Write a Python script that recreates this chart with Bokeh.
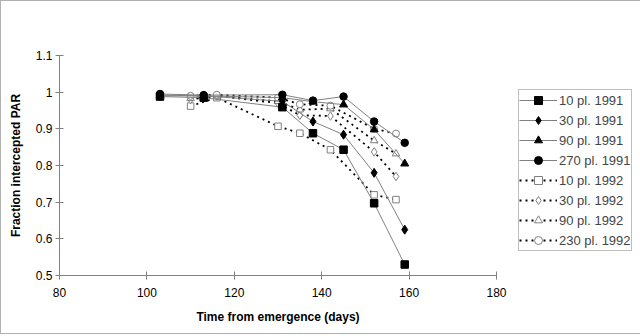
from bokeh.plotting import figure
from bokeh.models import Legend, LegendItem, FixedTicker, CustomJSTickFormatter, Range1d
from bokeh.embed import file_html
from bokeh.resources import INLINE

days_1991 = [103, 113, 131, 138, 145, 152, 159]
days_1992 = [110, 116, 130, 135, 142, 152, 157]

pl10_1991 = [0.988, 0.985, 0.959, 0.888, 0.843, 0.697, 0.530]
pl30_1991 = [0.990, 0.990, 0.975, 0.920, 0.884, 0.780, 0.625]
pl90_1991 = [0.992, 0.990, 0.985, 0.974, 0.966, 0.898, 0.805]
pl270_1991 = [0.995, 0.992, 0.993, 0.977, 0.988, 0.920, 0.862]

pl10_1992 = [0.962, 0.985, 0.907, 0.888, 0.843, 0.720, 0.707]
pl30_1992 = [0.980, 0.990, 0.970, 0.937, 0.935, 0.837, 0.770]
pl90_1992 = [0.983, 0.990, 0.975, 0.952, 0.955, 0.868, 0.832]
pl230_1992 = [0.990, 0.993, 0.985, 0.967, 0.963, 0.900, 0.887]

x_ticks = [80, 100, 120, 140, 160, 180]
y_ticks = [0.5, 0.6, 0.7, 0.8, 0.9, 1.0, 1.1]

FONT = "Liberation Sans"
GRAY = "#808080"

p = figure(frame_width=437, frame_height=220, output_backend="svg", toolbar_location=None,
           x_range=Range1d(80, 180), y_range=Range1d(0.5, 1.1),
           min_border_left=58, min_border_right=142, min_border_top=54, min_border_bottom=58)
p.styles = {"border": "1px solid #b0b0b0"}
p.outline_line_color = None
p.xgrid.visible = False
p.ygrid.visible = False

for ax in (p.xaxis[0], p.yaxis[0]):
    ax.axis_line_color = GRAY
    ax.major_tick_line_color = GRAY
    ax.minor_tick_line_color = None
    ax.major_tick_in = 4
    ax.major_tick_out = 4
    ax.major_label_text_font = FONT
    ax.major_label_text_font_size = "12px"
    ax.major_label_text_color = "black"
    ax.axis_label_text_font = FONT
    ax.axis_label_text_font_size = "12px"
    ax.axis_label_text_font_style = "bold"
    ax.axis_label_text_color = "black"

p.xaxis.ticker = FixedTicker(ticks=x_ticks)
p.yaxis.ticker = FixedTicker(ticks=y_ticks)
p.yaxis.formatter = CustomJSTickFormatter(code="return tick.toFixed(1).replace(/\\.0$/, '');")
p.xaxis.axis_label = "Time from emergence (days)"
p.yaxis.axis_label = "Fraction intercepted PAR"
p.yaxis.major_label_orientation = "horizontal"
p.xaxis.major_label_standoff = 8
p.xaxis.axis_label_standoff = 10
p.yaxis.major_label_standoff = 3
p.yaxis.axis_label_standoff = 10

# 1992 series (dashed lines, open gray markers)
s92 = [("10 pl. 1992", pl10_1992, "square", 6.5),
       ("30 pl. 1992", pl30_1992, "diamond", 8.5),
       ("90 pl. 1992", pl90_1992, "triangle", 7.5),
       ("230 pl. 1992", pl230_1992, "circle", 7)]
items92 = []
for label, vals, mk, sz in s92:
    ln = p.line(days_1992, vals, line_color="black", line_width=1.8, line_dash="2 4")
    sc = p.scatter(days_1992, vals, marker=mk, size=sz, fill_color="white",
                   line_color=GRAY, line_width=1)
    items92.append(LegendItem(label=label, renderers=[ln, sc]))

# 1991 series (solid gray lines, filled black markers)
s91 = [("10 pl. 1991", pl10_1991, "square", 7.5),
       ("30 pl. 1991", pl30_1991, "diamond", 9),
       ("90 pl. 1991", pl90_1991, "triangle", 8),
       ("270 pl. 1991", pl270_1991, "circle", 7.5)]
items91 = []
for label, vals, mk, sz in s91:
    ln = p.line(days_1991, vals, line_color=GRAY, line_width=1)
    sc = p.scatter(days_1991, vals, marker=mk, size=sz, fill_color="black",
                   line_color="black", line_width=1)
    items91.append(LegendItem(label=label, renderers=[ln, sc]))

legend = Legend(items=items91 + items92, location=(22, 24),
                glyph_width=38, glyph_height=20, label_height=20,
                label_standoff=2, spacing=0, padding=0, margin=0,
                label_text_font=FONT, label_text_font_size="13px",
                border_line_color=GRAY, border_line_width=1,
                background_fill_color="white", background_fill_alpha=1)
p.add_layout(legend, "right")

open("out.html", "w").write(file_html(p, INLINE))
